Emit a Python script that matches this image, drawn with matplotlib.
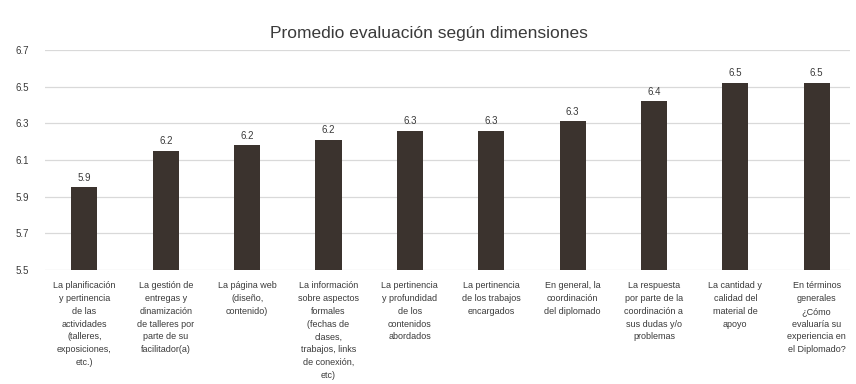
import matplotlib
matplotlib.use('Agg')
from matplotlib import pyplot as plt
import numpy as np

plt.rcParams['font.family'] = ['Liberation Sans', 'DejaVu Sans']

categorias = [
    "La planificación\ny pertinencia\nde las\nactividades\n(talleres,\nexposiciones,\netc.)",
    "La gestión de\nentregas y\ndinamización\nde talleres por\nparte de su\nfacilitador(a)",
    "La página web\n(diseño,\ncontenido)",
    "La información\nsobre aspectos\nformales\n(fechas de\nclases,\ntrabajos, links\nde conexión,\netc)",
    "La pertinencia\ny profundidad\nde los\ncontenidos\nabordados",
    "La pertinencia\nde los trabajos\nencargados",
    "En general, la\ncoordinación\ndel diplomado",
    "La respuesta\npor parte de la\ncoordinación a\nsus dudas y/o\nproblemas",
    "La cantidad y\ncalidad del\nmaterial de\napoyo",
    "En términos\ngenerales\n¿Cómo\nevaluaría su\nexperiencia en\nel Diplomado?",
]
promedios = [5.95, 6.15, 6.18, 6.21, 6.26, 6.26, 6.31, 6.42, 6.52, 6.52]
etiquetas = ["5.9", "6.2", "6.2", "6.2", "6.3", "6.3", "6.3", "6.4", "6.5", "6.5"]
yticks = [5.5, 5.7, 5.9, 6.1, 6.3, 6.5, 6.7]

txt = '#3a3a3a'
fig = plt.figure(figsize=(8.56, 3.84), dpi=100)
ax = fig.add_axes([0.053, 0.297, 0.94, 0.573])

x = np.arange(len(promedios))
ax.bar(x, promedios, width=0.32, color='#3b332e', zorder=3)
for xi, v, lab in zip(x, promedios, etiquetas):
    ax.text(xi, v + 0.025, lab, ha='center', va='bottom', fontsize=7, color=txt)

ax.set_ylim(5.5, 6.7)
ax.set_xlim(-0.48, 9.41)
ax.set_yticks(yticks)
ax.set_yticklabels([f"{t:.1f}" for t in yticks], fontsize=7, color=txt)
ax.grid(axis='y', color='#d9d9d9', linewidth=0.9, zorder=0)
ax.set_xticks(x)
ax.set_xticklabels(categorias, fontsize=6.5, color=txt)
for t in ax.get_xticklabels():
    t.set_linespacing(1.55)
ax.tick_params(axis='y', length=0, pad=12)
ax.tick_params(axis='x', length=0, pad=8)
for s in ax.spines.values():
    s.set_visible(False)

fig.text(0.501, 0.912, "Promedio evaluación según dimensiones", ha='center', va='center',
         fontsize=12.5, color=txt)

fig.savefig('out.png', dpi=100)
